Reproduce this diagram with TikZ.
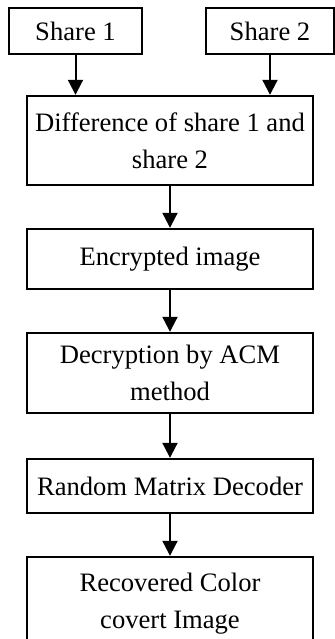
\documentclass[tikz,border=0pt]{standalone}
\usepackage{fontspec}
\setmainfont{Liberation Serif}
\usetikzlibrary{arrows.meta,positioning}

\begin{document}
\begin{tikzpicture}[x=0.5pt,y=-0.5pt,
mybox/.style={draw=black, line width=1.2pt, align=center, inner sep=0pt,
font=\fontsize{13.3}{18.5}\selectfont},
myarrow/.style={line width=1pt, -{Triangle[width=7.5pt,length=7.5pt]}}]
\useasboundingbox (0,0) rectangle (335,639);
\clip (0,0) rectangle (335,639);
\node[mybox, minimum width=66.5pt, minimum height=23pt] (S1) at (75.5,31) {Share 1};
\node[mybox, minimum width=64pt, minimum height=23pt] (S2) at (270,31) {Share 2};
\node[mybox, minimum width=143pt, minimum height=44.5pt] (D0) at (170,140.5) {Difference of share 1 and\\share 2};
\node[mybox, minimum width=143pt, minimum height=30pt] (E0) at (170,259) {Encrypted image};
\node[mybox, minimum width=143pt, minimum height=40pt] (A0) at (170,373) {Decryption by ACM\\method};
\node[mybox, minimum width=143pt, minimum height=27pt] (R0) at (170,486) {Random Matrix Decoder};
% box runs past the bottom edge
\node[mybox, minimum width=143pt, minimum height=62.5pt] (C0) at (170,619.5) {Recovered Color\\covert Image\\\mbox{}};
\draw[myarrow] (S1) -- (S1 |- D0.north);
\draw[myarrow] (S2) -- (S2 |- D0.north);
\draw[myarrow] (D0) -- (E0);
\draw[myarrow] (E0) -- (A0);
\draw[myarrow] (A0) -- (R0);
\draw[myarrow] (R0) -- (C0);
\end{tikzpicture}
\end{document}
